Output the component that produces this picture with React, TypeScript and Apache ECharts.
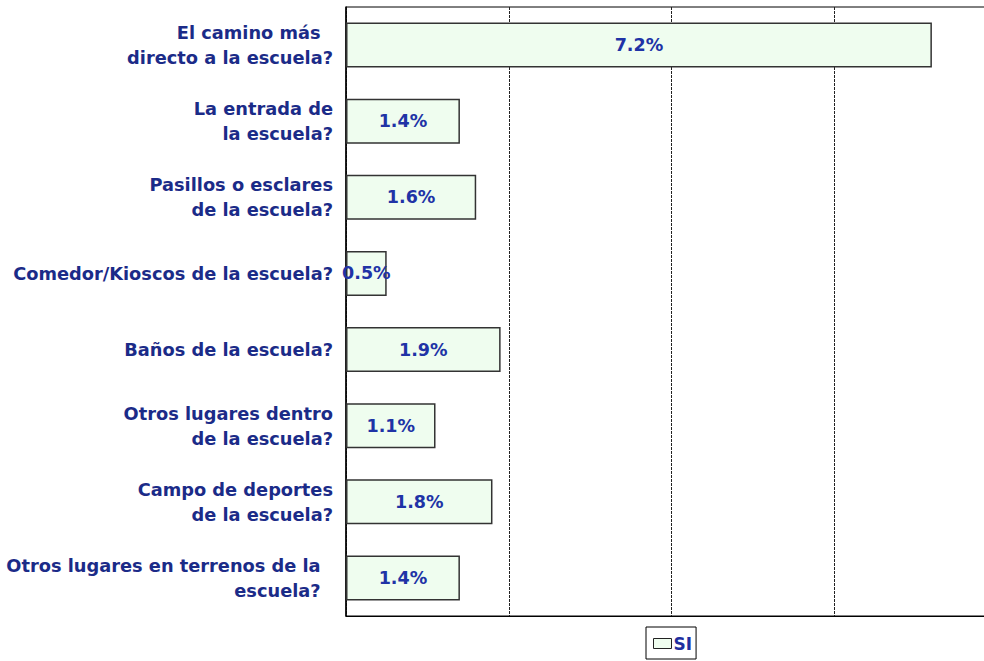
import React, { useEffect, useRef } from "react";
import * as echarts from "echarts";

const categories: string[] = [
  "El camino más  \ndirecto a la escuela?",
  "La entrada de\nla escuela?",
  "Pasillos o esclares\nde la escuela?",
  "Comedor/Kioscos de la escuela?",
  "Baños de la escuela?",
  "Otros lugares dentro\nde la escuela?",
  "Campo de deportes\nde la escuela?",
  "Otros lugares en terrenos de la  \nescuela?  ",
];
const seriesName = "SI";
const values: number[] = [7.2, 1.4, 1.6, 0.5, 1.9, 1.1, 1.8, 1.4];

const FONT = "DejaVu Sans";

export default function App() {
  const ref = useRef<HTMLDivElement>(null);
  useEffect(() => {
    if (!ref.current) return;
    const chart = echarts.init(ref.current, null, { renderer: "svg" });
    chart.setOption({
      animation: false,
      backgroundColor: "#ffffff",
      grid: {
        left: 346,
        top: 7,
        width: 651,
        height: 609,
        show: true,
        borderColor: "#000",
        borderWidth: 1,
        backgroundColor: "transparent",
      },
      legend: {
        data: [seriesName],
        left: 646,
        top: 627,
        orient: "horizontal",
        borderColor: "#000",
        borderWidth: 1,
        padding: [8, 4, 7, 7],
        itemWidth: 18,
        itemHeight: 10,
        itemGap: 0,
        icon: "rect",
        itemStyle: { color: "#effdef", borderColor: "#222", borderWidth: 1 },
        textStyle: {
          fontFamily: FONT,
          fontWeight: "bold",
          fontSize: 17,
          color: "#1f2f9f",
          padding: [0, 0, 0, -3],
        },
      },
      xAxis: {
        type: "value",
        min: 0,
        max: 8,
        interval: 2,
        axisLabel: { show: false },
        axisTick: { show: false },
        axisLine: { show: true, lineStyle: { color: "#000", width: 1 } },
        splitLine: {
          show: true,
          lineStyle: { color: "#222", type: [3, 1], width: 1 },
        },
      },
      yAxis: {
        type: "category",
        inverse: true,
        data: categories,
        axisTick: { show: false },
        axisLine: { show: true, lineStyle: { color: "#000", width: 1.5 } },
        axisLabel: {
          margin: 13,
          fontFamily: FONT,
          fontWeight: "bold",
          fontSize: 17.8,
          lineHeight: 25,
          color: "#1b2b88",
          align: "right",
        },
      },
      series: [
        {
          name: seriesName,
          type: "bar",
          data: values,
          barWidth: 45,
          itemStyle: {
            color: "#effdef",
            borderColor: "#333",
            borderWidth: 1.5,
          },
          label: {
            show: true,
            position: "inside",
            formatter: (p: any) => p.value.toFixed(1) + "%",
            fontFamily: FONT,
            fontWeight: "bold",
            fontSize: 17.5,
            color: "#2033a6",
          },
        },
      ],
    });
    return () => chart.dispose();
  }, []);
  return (
    <div
      ref={ref}
      style={{ position: "fixed", left: 0, top: 0, width: 1000, height: 661 }}
    />
  );
}
